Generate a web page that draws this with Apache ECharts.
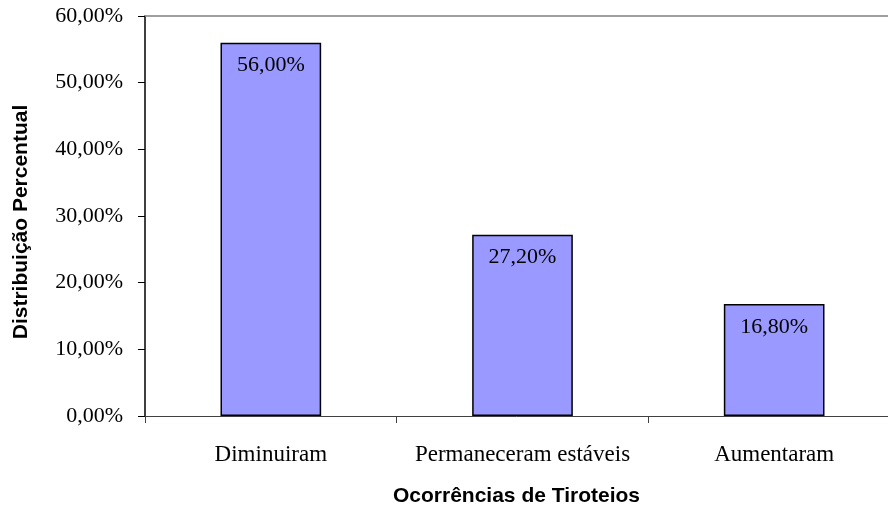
<!DOCTYPE html>
<html>
<head>
<meta charset="utf-8">
<script src="https://cdn.jsdelivr.net/npm/echarts@6/dist/echarts.min.js"></script>
<style>
html, body { margin: 0; padding: 0; background: #fff; }
#chart { width: 888px; height: 511px; }
</style>
</head>
<body>
<div id="chart"></div>
<script>
// dados
const categories = ['Diminuiram', 'Permaneceram estáveis', 'Aumentaram'];
const values = [56.0, 27.2, 16.8];
const yTicks = [0, 10, 20, 30, 40, 50, 60];

const fmt = v => v.toFixed(2).replace('.', ',') + '%';
const serif = '"Liberation Serif", "Times New Roman", serif';
const sans = '"Liberation Sans", Arial, sans-serif';

const chart = echarts.init(document.getElementById('chart'));
chart.setOption({
	animation: false,
	grid: { left: 145, top: 16, bottom: 95, right: -12, containLabel: false, outerBoundsMode: 'none' },
	xAxis: [
		{
			type: 'category',
			data: categories,
			axisLine: { lineStyle: { color: '#404040', width: 1 } },
			axisTick: { show: true, interval: 0, length: 7, lineStyle: { color: '#404040' } },
			axisLabel: { interval: 0, hideOverlap: false, color: '#000', fontFamily: serif, fontSize: 23, margin: 27 },
			name: 'Ocorrências de Tiroteios',
			nameLocation: 'middle',
			nameGap: 70,
			nameTextStyle: { color: '#000', fontFamily: sans, fontSize: 21, fontWeight: 'bold', padding: [0, 0, 0, -12] }
		},
		{
			type: 'category',
			position: 'top',
			data: categories,
			axisLine: { lineStyle: { color: '#808080', width: 1.5 } },
			axisTick: { show: false },
			axisLabel: { show: false }
		}
	],
	yAxis: {
		type: 'value',
		min: yTicks[0],
		max: yTicks[yTicks.length - 1],
		interval: 10,
		axisLine: { show: true, lineStyle: { color: '#000', width: 1.5 } },
		axisTick: { show: true, length: 7, lineStyle: { color: '#000' } },
		splitLine: { show: false },
		axisLabel: { color: '#000', fontFamily: serif, fontSize: 22, margin: 22, formatter: v => fmt(v) },
		name: 'Distribuição Percentual',
		nameLocation: 'middle',
		nameGap: 113,
		nameTextStyle: { color: '#000', fontFamily: sans, fontSize: 21, fontWeight: 'bold', padding: [0, 0, 0, -12] }
	},
	series: [{
		type: 'bar',
		data: values,
		barWidth: '40%',
		itemStyle: { color: '#9999ff', borderColor: '#000', borderWidth: 1.5 },
		label: {
			show: true,
			position: 'insideTop',
			distance: 12,
			color: '#000',
			fontFamily: serif,
			fontSize: 22,
			formatter: p => fmt(p.value)
		}
	}]
});
</script>
</body>
</html>
